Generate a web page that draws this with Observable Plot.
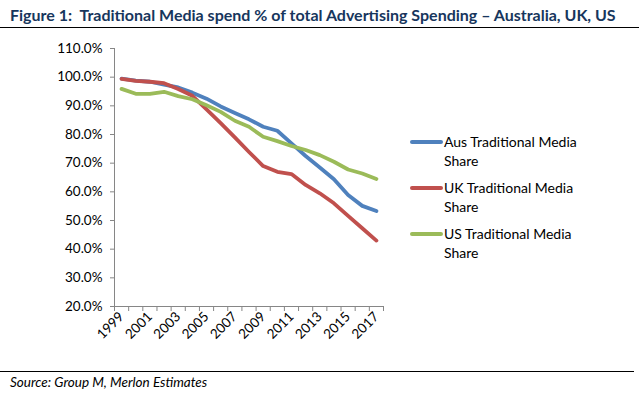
<!DOCTYPE html>
<html>
<head>
<meta charset="utf-8">
<script src="https://cdn.jsdelivr.net/npm/d3@7"></script>
<script src="https://cdn.jsdelivr.net/npm/@observablehq/plot@0.6"></script>
<style>
  body { margin: 0; background: #fff; }
  #wrap { position: relative; width: 644px; height: 396px; font-family: Lato, "Open Sans", sans-serif; overflow: hidden; }
  #title { position: absolute; left: 10px; top: 5px; font-size: 16px; font-weight: bold; color: #17365D; white-space: pre; }
  #rule1 { position: absolute; left: 0; top: 27px; width: 639px; height: 0; border-top: 1.5px solid #000; }
  #chart { position: absolute; left: 0; top: 30px; }
  #rule2 { position: absolute; left: 0; top: 371px; width: 634px; height: 0; border-top: 1.5px solid #000; }
  #source { position: absolute; left: 10px; top: 374px; font-size: 13.5px; font-style: italic; color: #000; white-space: nowrap; }
  #legend { position: absolute; left: 410px; top: 132px; width: 230px; font-size: 14px; color: #000; }
  .item { position: relative; height: 46px; }
  .sw { position: absolute; left: 0; top: 8px; width: 33px; height: 4px; border-radius: 2px; }
  .lab { position: absolute; left: 34px; top: 0; line-height: 19px; white-space: nowrap; }
</style>
</head>
<body>
<div id="wrap">
  <div id="title"></div>
  <div id="rule1"></div>
  <div id="chart"></div>
  <div id="legend"></div>
  <div id="rule2"></div>
  <div id="source"></div>
</div>
<script>
const titleText = "Figure 1:  Traditional Media spend % of total Advertising Spending \u2013 Australia, UK, US";
const sourceText = "Source: Group M, Merlon Estimates";
const years = [1999,2000,2001,2002,2003,2004,2005,2006,2007,2008,2009,2010,2011,2012,2013,2014,2015,2016,2017];
const yearLabels = [1999,2001,2003,2005,2007,2009,2011,2013,2015,2017];
const ausShare = [99.5,98.8,98.4,97.4,96.4,94.6,92.5,89.8,87.5,85.3,82.7,81.3,76.9,72.5,68.5,64.4,58.9,55.1,53.3];
const ukShare  = [99.4,98.7,98.4,97.9,95.9,93.5,88.8,84.0,79.0,73.9,69.0,67.0,66.2,62.4,59.5,56.0,51.6,47.3,43.0];
const usShare  = [95.9,94.2,94.2,94.9,93.4,92.3,90.2,87.9,84.8,82.7,79.2,77.7,76.0,74.6,72.8,70.5,67.8,66.4,64.5];
const yTicks = [20,30,40,50,60,70,80,90,100,110];
const seriesNames = ["Aus Traditional Media Share","UK Traditional Media Share","US Traditional Media Share"];
const seriesColors = ["#4F81BD","#C0504D","#9BBB59"];

document.getElementById("title").textContent = titleText;
document.getElementById("source").textContent = sourceText;

const rows = [];
[ausShare, ukShare, usShare].forEach((arr, s) => {
  arr.forEach((v, i) => rows.push({series: seriesNames[s], year: years[i], value: v}));
});
const boundaries = d3.range(years.length + 1).map(i => years[0] - 0.5 + i);

const plot = Plot.plot({
  width: 644,
  height: 336,
  marginTop: 18,
  marginBottom: 60,
  marginLeft: 114,
  marginRight: 261,
  style: {fontFamily: "Lato, 'Open Sans', sans-serif", fontSize: "13.5px", color: "#000", background: "transparent"},
  x: {domain: [years[0] - 0.5, years[years.length - 1] + 0.5]},
  y: {domain: [yTicks[0], yTicks[yTicks.length - 1]]},
  color: {domain: seriesNames, range: seriesColors},
  marks: [
    Plot.axisY({ticks: yTicks, tickFormat: d => d.toFixed(1) + "%", tickSize: 4, tickPadding: 8, stroke: "#868686", label: null, fill: "#000"}),
    Plot.axisX({ticks: boundaries, tickFormat: () => "", tickSize: 5, stroke: "#868686", label: null}),
    Plot.axisX({ticks: yearLabels, tickFormat: d => String(d), tickSize: 0, tickRotate: -45, tickPadding: 8, label: null, fill: "#000"}),
    Plot.ruleX([years[0] - 0.5], {stroke: "#868686", strokeWidth: 1}),
    Plot.ruleY([yTicks[0]], {stroke: "#868686", strokeWidth: 1}),
    Plot.line(rows, {x: "year", y: "value", z: "series", stroke: "series", strokeWidth: 3.8, strokeLinejoin: "round", strokeLinecap: "round"})
  ]
});
document.getElementById("chart").appendChild(plot);

const legend = document.getElementById("legend");
seriesNames.forEach((name, i) => {
  const it = document.createElement("div");
  it.className = "item";
  const sw = document.createElement("div");
  sw.className = "sw";
  sw.style.background = seriesColors[i];
  const lab = document.createElement("div");
  lab.className = "lab";
  const words = name.split(" ");
  lab.innerHTML = words.slice(0, 3).join(" ") + "<br>" + words.slice(3).join(" ");
  it.appendChild(sw); it.appendChild(lab);
  legend.appendChild(it);
});
</script>
</body>
</html>
